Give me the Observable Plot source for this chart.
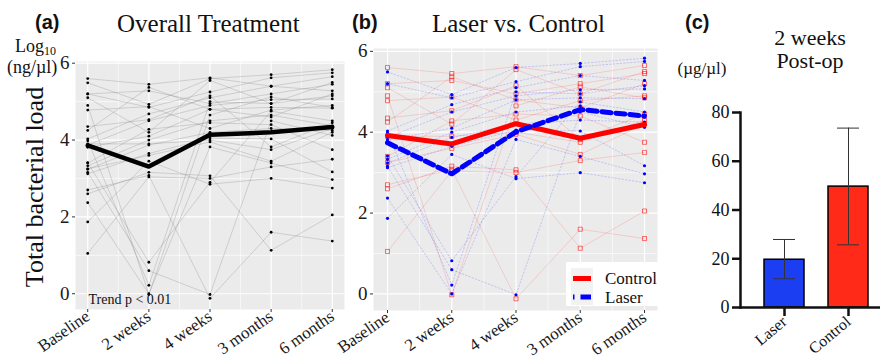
<!DOCTYPE html>
<html><head><meta charset="utf-8">
<script src="https://cdn.jsdelivr.net/npm/d3@7"></script>
<script src="https://cdn.jsdelivr.net/npm/@observablehq/plot@0.6"></script>
<style>
body{margin:0;background:#fff;}
#root{position:relative;width:880px;height:362px;overflow:hidden;font-family:"Liberation Serif","Times New Roman",serif;color:#111;background:#fff;}
.abs{position:absolute;white-space:nowrap;line-height:1;}
.tag{font-family:"Liberation Sans",Arial,sans-serif;font-weight:bold;font-size:20px;}
.title{font-size:25px;}
#root svg{overflow:visible;}
#root svg text{font-family:"Liberation Serif","Times New Roman",serif !important;}
</style></head><body>
<div id="root">
  <div id="pa" class="abs" style="left:0;top:0"></div>
  <div id="pb" class="abs" style="left:340px;top:0"></div>
  <div id="pc" class="abs" style="left:670px;top:0"></div>
  <div class="abs tag" style="left:35px;top:12px">(a)</div>
  <div class="abs title" style="left:117px;top:11px">Overall Treatment</div>
  <div class="abs tag" style="left:352px;top:12px">(b)</div>
  <div class="abs title" style="left:432px;top:11px">Laser vs. Control</div>
  <div class="abs tag" style="left:685px;top:12px">(c)</div>
  <div class="abs" style="left:810px;top:27px;font-size:22px;transform:translateX(-50%)">2 weeks</div>
  <div class="abs" style="left:810px;top:50px;font-size:22px;transform:translateX(-50%)">Post-op</div>
  <div class="abs" style="left:702px;top:60px;font-size:17px;transform:translateX(-50%)">(µg/µl)</div>
  <div class="abs" style="left:15px;top:37px;font-size:18px">Log<sub style="font-size:12px;vertical-align:-3px">10</sub></div>
  <div class="abs" style="left:7px;top:58px;font-size:18px">(ng/µl)</div>
  <div class="abs" style="left:35px;top:187px;font-size:26px;transform:translate(-50%,-50%) rotate(-90deg)">Total bacterial load</div>
  <svg class="abs" width="92" height="44" style="left:566px;top:262px">
    <rect width="92" height="44" fill="white"/>
    <rect x="5" y="6" width="22" height="37" fill="#F2F2F2"/>
    <line x1="7" x2="25" y1="16.5" y2="16.5" stroke="red" stroke-width="5"/>
    <line x1="7" x2="25" y1="35" y2="35" stroke="blue" stroke-width="5" stroke-dasharray="1.5,6,12"/>
    <text x="39" y="22" font-size="17" fill="#111">Control</text>
    <text x="39" y="41" font-size="17" fill="#111">Laser</text>
  </svg>
</div>
<script>
// ---------- data ----------
const timepoints = ["Baseline", "2 weeks", "4 weeks", "3 months", "6 months"];

// individual subjects: values at Baseline, 2 weeks, 4 weeks, 3 months, 6 months (log10 ng/µl)
const controlSubjects = [
  [5.60, 5.45, 5.62, 5.40, 5.65],
  [5.20, 5.28, 4.95, 5.20, 5.45],
  [5.10, 4.20, 5.55, 4.95, 5.50],
  [4.90, -0.02, 4.65, 5.12, 4.85],
  [4.78, 4.87, 4.30, 4.78, 4.90],
  [4.35, 4.53, 5.15, 3.82, 4.45],
  [4.25, 5.37, 4.80, 4.60, 5.20],
  [3.90, 3.90, 4.00, 3.75, 4.30],
  [3.40, 4.28, 4.45, 4.40, 3.75],
  [3.25, 3.60, 3.95, 3.45, 4.20],
  [2.70, 3.08, -0.12, 1.60, 1.37],
  [2.60, 3.16, 3.07, 1.13, 2.05],
  [1.05, 3.04, 3.00, 3.30, 3.50]
];
const laserSubjects = [
  [5.49, 4.93, 5.60, 5.70, 5.83],
  [5.20, 4.85, 5.25, 5.62, 5.75],
  [4.03, 4.68, 5.10, 5.40, 5.28],
  [3.98, 0.22, 5.00, 4.95, 5.15],
  [3.87, 4.50, 4.90, 5.05, 5.07],
  [3.81, 4.10, 4.80, 4.85, 4.83],
  [3.41, 0.82, 2.90, 4.75, 4.50],
  [3.33, 4.00, 4.50, 4.65, 4.37],
  [3.24, 3.87, 4.20, 4.30, 4.25],
  [3.16, 0.60, -0.02, 4.50, 4.12],
  [3.12, 3.65, 4.05, 4.03, 3.17],
  [2.37, 0.00, 3.82, 3.40, 2.97],
  [1.87, 3.45, 2.85, 3.00, 2.75]
];
const meanOverall = [3.86, 3.31, 4.14, 4.20, 4.34];
const meanControl = [3.92, 3.71, 4.21, 3.85, 4.19];
const meanLaser = [3.74, 2.97, 4.01, 4.56, 4.40];

const barGroups = ["Laser", "Control"];
const barMeans = [19.6, 49.6];
const barLower = [11.8, 25.7];
const barUpper = [27.9, 73.6];

// ---------- build tables ----------
const toRows = (subjects, group) => subjects.flatMap((vals, i) =>
  vals.map((v, t) => ({id: group + i, group, t: t + 1, v})));
const controlRows = toRows(controlSubjects, "Control");
const laserRows = toRows(laserSubjects, "Laser");
const allRows = controlRows.concat(laserRows);
const meanRows = arr => arr.map((v, i) => ({t: i + 1, v}));
const barRows = barGroups.map((g, i) => ({g, m: barMeans[i], lo: barLower[i], hi: barUpper[i]}));

const serif = "Liberation Serif, Times New Roman, serif";
const ticksX = [1, 2, 3, 4, 5];

const background = () => [
  Plot.frame({fill: "#EBEBEB", stroke: null}),
  Plot.ruleY([1, 3, 5], {stroke: "white", strokeWidth: 0.6}),
  Plot.ruleX([1.5, 2.5, 3.5, 4.5], {stroke: "white", strokeWidth: 0.6}),
  Plot.ruleY([0, 2, 4, 6], {stroke: "white", strokeWidth: 1.2}),
  Plot.ruleX(ticksX, {stroke: "white", strokeWidth: 1.2})
];
const axes = () => [
  Plot.axisY({ticks: [0, 2, 4, 6], tickFormat: d => String(d), tickSize: 3, tickPadding: 3, fontSize: 19,
              fontFamily: serif, label: null, stroke: "#333", fill: "#1a1a1a"}),
  Plot.axisX({ticks: ticksX, tickFormat: i => timepoints[i - 1], tickRotate: -35, tickSize: 3, tickPadding: 2,
              fontSize: 17, fontFamily: serif, label: null, stroke: "#333", fill: "#1a1a1a"})
];

// ---------- panel (a) ----------
const pa = Plot.plot({
  width: 348, height: 362,
  marginLeft: 75, marginRight: 4, marginTop: 61, marginBottom: 53,
  style: {background: "transparent", fontFamily: serif, color: "#1a1a1a", overflow: "visible"},
  x: {domain: [0.8, 5.2]},
  y: {domain: [-0.41, 6.044]},
  marks: [
    ...background(),
    Plot.line(allRows, {x: "t", y: "v", z: "id", stroke: "#777", strokeOpacity: 0.38, strokeWidth: 0.7}),
    Plot.dot(allRows, {x: "t", y: "v", r: 1.4, fill: "black", stroke: null}),
    Plot.line(meanRows(meanOverall), {x: "t", y: "v", stroke: "black", strokeWidth: 4.5}),
    Plot.text(["Trend p < 0.01"], {text: d => d, frameAnchor: "bottom-left", dx: 13, dy: -6,
              textAnchor: "start", lineAnchor: "bottom", fontSize: 14, fontFamily: serif, fill: "#111"}),
    ...axes()
  ]
});
document.getElementById("pa").appendChild(pa);

// ---------- panel (b) ----------
const pb = Plot.plot({
  width: 330, height: 362,
  marginLeft: 33, marginRight: 13, marginTop: 48, marginBottom: 52,
  style: {background: "transparent", fontFamily: serif, color: "#1a1a1a", overflow: "visible"},
  x: {domain: [0.782, 5.202]},
  y: {domain: [-0.41, 6.07]},
  marks: [
    ...background(),
    Plot.line(controlRows, {x: "t", y: "v", z: "id", stroke: "red", strokeOpacity: 0.2, strokeWidth: 0.7}),
    Plot.line(laserRows, {x: "t", y: "v", z: "id", stroke: "blue", strokeOpacity: 0.22, strokeWidth: 0.8,
              strokeDasharray: "1.5,2"}),
    Plot.dot(controlRows, {x: "t", y: "v", symbol: "square", r: 2.3, fill: "none", stroke: "red",
             strokeOpacity: 0.7, strokeWidth: 0.8}),
    Plot.dot(laserRows, {x: "t", y: "v", r: 1.6, fill: "blue", stroke: null}),
    Plot.line(meanRows(meanControl), {x: "t", y: "v", stroke: "red", strokeWidth: 5}),
    Plot.line(meanRows(meanLaser), {x: "t", y: "v", stroke: "blue", strokeWidth: 5, strokeDasharray: "9,5"}),
    ...axes()
  ]
});
document.getElementById("pb").appendChild(pb);

// ---------- panel (c) ----------
const pc = Plot.plot({
  width: 210, height: 362,
  marginLeft: 70, marginRight: 0, marginTop: 112, marginBottom: 55,
  style: {background: "transparent", fontFamily: serif, color: "#111", overflow: "visible"},
  x: {type: "band", domain: barGroups, range: [70, 222], paddingInner: 0.369, paddingOuter: 0.354},
  y: {domain: [0, 80]},
  color: {domain: barGroups, range: ["#1c3ef2", "#ff2a17"]},
  marks: [
    Plot.barY(barRows, {x: "g", y: "m", fill: "g", stroke: "black", strokeWidth: 1.5}),
    Plot.ruleX(barRows, {x: "g", y1: "lo", y2: "hi", stroke: "#333", strokeWidth: 1}),
    Plot.tickY(barRows, {x: "g", y: "hi", stroke: "#333", strokeWidth: 1, insetLeft: 9, insetRight: 9}),
    Plot.tickY(barRows, {x: "g", y: "lo", stroke: "#333", strokeWidth: 1, insetLeft: 9, insetRight: 9}),
    Plot.frame({anchor: "left", strokeWidth: 2.5, stroke: "#111"}),
    Plot.frame({anchor: "bottom", strokeWidth: 2.5, stroke: "#111"}),
    Plot.axisY({ticks: [0, 20, 40, 60, 80], tickFormat: d => String(d), tickSize: 8, tickPadding: 3,
                strokeWidth: 2.5, fontSize: 18, fontFamily: serif, label: null, fill: "#111"}),
    Plot.axisX({tickSize: 9, tickPadding: 3, strokeWidth: 2.5, tickRotate: -40, fontSize: 16,
                fontFamily: serif, label: null, fill: "#111"})
  ]
});
document.getElementById("pc").appendChild(pc);
</script>
</body></html>
